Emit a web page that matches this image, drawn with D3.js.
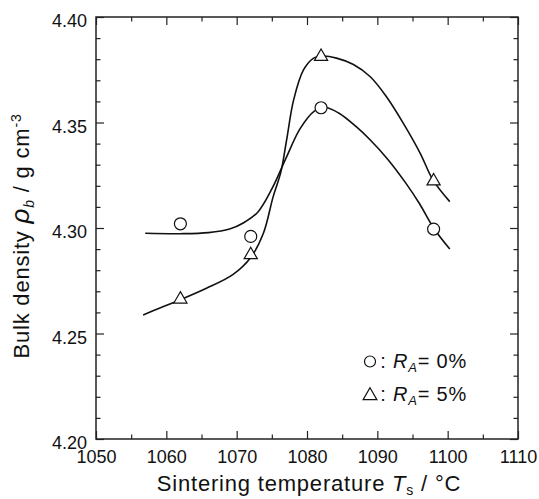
<!DOCTYPE html>
<html>
<head>
<meta charset="utf-8">
<script src="https://cdn.jsdelivr.net/npm/d3@7"></script>
<style>
  body { margin: 0; background: #fff; }
  text { font-family: "Liberation Sans", Arial, sans-serif; fill: #111; }
</style>
</head>
<body>
<div id="chart"></div>
<script>
const tempsMeasured = [1062, 1072, 1082, 1098];
const density0 = [4.302, 4.296, 4.357, 4.2995];
const density5 = [4.267, 4.288, 4.382, 4.323];

// fitted curves
const fitTemps0 = [1057, 1062, 1066, 1069, 1071, 1073, 1075, 1077, 1079, 1081, 1082.5, 1084.5, 1087, 1089, 1091.5, 1094, 1096, 1098, 1100.3];
const fitValues0 = [4.2975, 4.2973, 4.2978, 4.2995, 4.3025, 4.3075, 4.3185, 4.333, 4.347, 4.3553, 4.3572, 4.3545, 4.348, 4.3417, 4.3325, 4.3215, 4.3115, 4.300, 4.290];
const fitTemps5 = [1056.7, 1059, 1062, 1065.7, 1069.5, 1072, 1073.8, 1075.2, 1076.3, 1077.1, 1078.1, 1079.5, 1080.9, 1082.3, 1084.2, 1086.6, 1089, 1091.3, 1093.7, 1096.1, 1097.9, 1100.3];
const fitValues5 = [4.2588, 4.262, 4.266, 4.2714, 4.278, 4.286, 4.2975, 4.315, 4.3267, 4.3417, 4.3607, 4.3749, 4.3804, 4.3815, 4.3805, 4.3775, 4.3717, 4.3622, 4.3496, 4.3354, 4.3228, 4.3125];

const xMajor = [1050, 1060, 1070, 1080, 1090, 1100, 1110];
const xMinor = [1055, 1065, 1075, 1085, 1095, 1105];
const yMajor = [4.20, 4.25, 4.30, 4.35, 4.40];
const yMinor = [4.21, 4.22, 4.23, 4.24, 4.26, 4.27, 4.28, 4.29, 4.31, 4.32, 4.33, 4.34, 4.36, 4.37, 4.38, 4.39];

const width = 539;
const height = 499;
const plotLeft = 96, plotRight = 518, plotTop = 17, plotBottom = 439;

const x = d3.scaleLinear().domain([1050, 1110]).range([plotLeft, plotRight]);
const y = d3.scaleLinear().domain([4.20, 4.40]).range([plotBottom, plotTop]);

const svg = d3.select('#chart')
    .append('svg')
    .attr('width', width)
    .attr('height', height);

// ticks, all pointing inward
function tickGroup(axis, transform) {
    const g = svg.append('g')
        .attr('transform', transform)
        .call(axis);
    g.select('.domain').remove();
    g.selectAll('.tick line').attr('stroke', '#222').attr('stroke-width', 1.2);
    return g;
}

tickGroup(d3.axisBottom(x).tickValues(xMinor).tickSize(-4.5).tickFormat(''), `translate(0,${plotBottom})`);
tickGroup(d3.axisTop(x).tickValues(xMinor).tickSize(-4.5).tickFormat(''), `translate(0,${plotTop})`);
tickGroup(d3.axisTop(x).tickValues(xMajor).tickSize(-8).tickFormat(''), `translate(0,${plotTop})`);
const xAxis = tickGroup(d3.axisBottom(x).tickValues(xMajor).tickSize(-8).tickPadding(11).tickFormat(d3.format('d')), `translate(0,${plotBottom})`);
xAxis.selectAll('.tick text')
    .attr('font-size', 18)
    .attr('font-family', '"Liberation Sans", Arial, sans-serif')
    .attr('fill', '#111');

tickGroup(d3.axisLeft(y).tickValues(yMinor).tickSize(-4.5).tickFormat(''), `translate(${plotLeft},0)`);
tickGroup(d3.axisRight(y).tickValues(yMinor).tickSize(-4.5).tickFormat(''), `translate(${plotRight},0)`);
tickGroup(d3.axisRight(y).tickValues(yMajor).tickSize(-8).tickFormat(''), `translate(${plotRight},0)`);
const yAxis = tickGroup(d3.axisLeft(y).tickValues(yMajor).tickSize(-8).tickPadding(9).tickFormat(d3.format('.2f')), `translate(${plotLeft},0)`);
yAxis.selectAll('.tick text')
    .attr('font-size', 18)
    .attr('font-family', '"Liberation Sans", Arial, sans-serif')
    .attr('fill', '#111')
    .attr('dy', '0.55em');

// frame
svg.append('rect')
    .attr('x', plotLeft)
    .attr('y', plotTop)
    .attr('width', plotRight - plotLeft)
    .attr('height', plotBottom - plotTop)
    .attr('fill', 'none')
    .attr('stroke', '#222')
    .attr('stroke-width', 1.5);

// fitted curves
const line = d3.line()
    .x((d) => x(d[0]))
    .y((d) => y(d[1]))
    .curve(d3.curveCatmullRom.alpha(0.5));

svg.append('path')
    .datum(d3.zip(fitTemps0, fitValues0))
    .attr('d', line)
    .attr('fill', 'none')
    .attr('stroke', '#111')
    .attr('stroke-width', 1.6);

svg.append('path')
    .datum(d3.zip(fitTemps5, fitValues5))
    .attr('d', line)
    .attr('fill', 'none')
    .attr('stroke', '#111')
    .attr('stroke-width', 1.6);

// markers
svg.selectAll('circle.m0')
    .data(d3.zip(tempsMeasured, density0))
    .enter()
        .append('circle')
        .attr('class', 'm0')
        .attr('cx', (d) => x(d[0]))
        .attr('cy', (d) => y(d[1]))
        .attr('r', 6)
        .attr('fill', '#fff')
        .attr('stroke', '#111')
        .attr('stroke-width', 1.2);

const tri = (s) => `M0,${-s * 0.5}L${s * 0.55},${s * 0.45}L${-s * 0.55},${s * 0.45}Z`;

svg.selectAll('path.m5')
    .data(d3.zip(tempsMeasured, density5))
    .enter()
        .append('path')
        .attr('class', 'm5')
        .attr('d', tri(12))
        .attr('transform', (d) => `translate(${x(d[0])},${y(d[1])})`)
        .attr('fill', '#fff')
        .attr('stroke', '#111')
        .attr('stroke-width', 1.2);

// legend
svg.append('circle')
    .attr('cx', 370)
    .attr('cy', 361.5)
    .attr('r', 5.5)
    .attr('fill', '#fff')
    .attr('stroke', '#111')
    .attr('stroke-width', 1.2);

svg.append('path')
    .attr('d', tri(12.5))
    .attr('transform', 'translate(370,394)')
    .attr('fill', '#fff')
    .attr('stroke', '#111')
    .attr('stroke-width', 1.2);

function legendText(yPos, value) {
    const t = svg.append('text')
        .attr('x', 467)
        .attr('y', yPos)
        .attr('text-anchor', 'end')
        .attr('letter-spacing', 0.8)
        .attr('font-size', 20);
    t.append('tspan').text(': ');
    t.append('tspan').attr('font-style', 'italic').text('R');
    t.append('tspan').attr('font-style', 'italic').attr('font-size', 13).attr('dy', 4).text('A');
    t.append('tspan').attr('dy', -4).text('= ' + value);
}
legendText(368, '0%');
legendText(400.5, '5%');

// axis titles
const xTitle = svg.append('text')
    .attr('x', 309)
    .attr('y', 491)
    .attr('text-anchor', 'middle')
    .attr('letter-spacing', 0.8)
    .attr('font-size', 22);
xTitle.append('tspan').text('Sintering temperature ');
xTitle.append('tspan').attr('font-style', 'italic').text('T');
xTitle.append('tspan').attr('font-size', 14).attr('dy', 4).text('s');
xTitle.append('tspan').attr('dy', -4).text(' / °C');

const yTitle = svg.append('text')
    .attr('transform', 'translate(29,236) rotate(-90)')
    .attr('text-anchor', 'middle')
    .attr('letter-spacing', 0.8)
    .attr('font-size', 22);
yTitle.append('tspan').text('Bulk density ');
yTitle.append('tspan').attr('font-style', 'italic').attr('font-size', 26).text('ρ');
yTitle.append('tspan').attr('font-style', 'italic').attr('font-size', 14).attr('dy', 5).text('b');
yTitle.append('tspan').attr('dy', -5).text(' / g cm');
yTitle.append('tspan').attr('font-size', 14).attr('dy', -8).text('-3');
</script>
</body>
</html>
